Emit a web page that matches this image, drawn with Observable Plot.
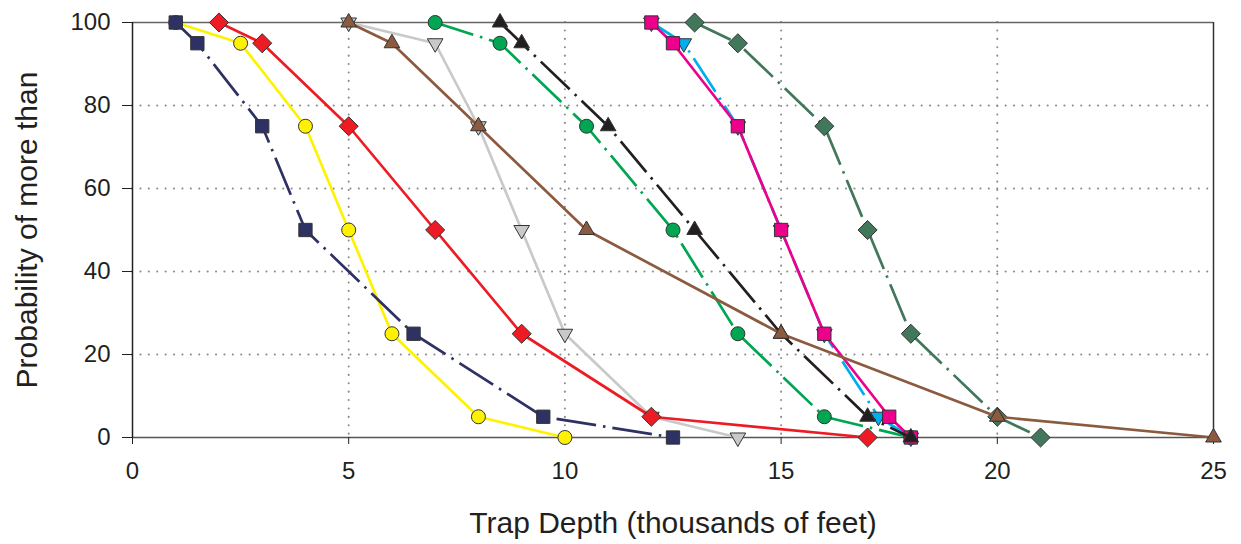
<!DOCTYPE html>
<html>
<head>
<meta charset="utf-8">
<script src="https://cdn.jsdelivr.net/npm/d3@7"></script>
<script src="https://cdn.jsdelivr.net/npm/@observablehq/plot@0.6"></script>
<style>
  html, body { margin: 0; padding: 0; background: #fff; }
  #chart svg { display: block; }
</style>
</head>
<body>
<div id="chart"></div>
<script>
// Probability levels shared by every series (y values)
const probs = [100, 95, 75, 50, 25, 5, 0];

// Trap depths (thousands of feet) per series
const navyDepths   = [1, 1.5, 3, 4, 6.5, 9.5, 12.5];
const yellowDepths = [1, 2.5, 4, 5, 6, 8, 10];
const redDepths    = [2, 3, 5, 7, 9, 12, 17];
const grayDepths   = [5, 7, 8, 9, 10, 12, 14];
const greenDepths  = [7, 8.5, 10.5, 12.5, 14, 16, 18];
const cyanDepths   = [12, 12.75, 14, 15, 16, 17.25, 18];
const pinkDepths   = [12, 12.5, 14, 15, 16, 17.5, 18];
const blackDepths  = [8.5, 9, 11, 13, 15, 17, 18];
const tealDepths   = [13, 14, 16, 17, 18, 20, 21];
const brownDepths  = [5, 6, 8, 10.5, 15, 20, 25];

// Tick labels
const xTicks = [0, 5, 10, 15, 20, 25];
const yTicks = [0, 20, 40, 60, 80, 100];
const xGrid = [5, 10, 15, 20];
const yGrid = [20, 40, 60, 80];

const xTitle = "Trap Depth (thousands of feet)";
const yTitle = "Probability of more than";

// Series definitions (drawing order)
const dashDot = "40,7,2.5,7";
const series = [
  {depths: yellowDepths, color: "#fff200", symbol: "circle",  size: 7,   dash: null},
  {depths: navyDepths,   color: "#2e3163", symbol: "square",  size: 7.5, dash: dashDot},
  {depths: grayDepths,   color: "#c9c9c9", symbol: "triangle",size: 5.8, dash: null, rotate: 180},
  {depths: redDepths,    color: "#ed1c24", symbol: "diamond2",size: 8.6, dash: null},
  {depths: greenDepths,  color: "#00a651", symbol: "circle",  size: 7,   dash: dashDot},
  {depths: cyanDepths,   color: "#00aeef", symbol: "triangle",size: 5.8, dash: dashDot, rotate: 180},
  {depths: pinkDepths,   color: "#ec008c", symbol: "square",  size: 7.5, dash: null},
  {depths: blackDepths,  color: "#231f20", symbol: "triangle",size: 5.8, dash: dashDot},
  {depths: tealDepths,   color: "#41775a", symbol: "diamond2",size: 8.6, dash: dashDot},
  {depths: brownDepths,  color: "#8b5a3f", symbol: "triangle",size: 5.8, dash: null}
];

const font = "'Liberation Sans', Arial, Helvetica, sans-serif";

const marks = [
  Plot.ruleX(xGrid, {stroke: "#8a8a8a", strokeWidth: 2, strokeDasharray: "0.1,8.3", strokeLinecap: "round"}),
  Plot.ruleY(yGrid, {stroke: "#8a8a8a", strokeWidth: 2, strokeDasharray: "0.1,8.3", strokeLinecap: "round"}),
  Plot.ruleY([100], {stroke: "#666", strokeWidth: 1.5}),
  Plot.ruleX([25], {stroke: "#333", strokeWidth: 1.5}),
  Plot.ruleY([0], {stroke: "#555", strokeWidth: 1.5}),
  Plot.ruleX([0], {stroke: "#222", strokeWidth: 1.5}),
  Plot.axisX(xTicks, {tickSize: 7, tickPadding: 17, fontSize: 24, stroke: "#222", color: "#231f20", label: null}),
  Plot.axisY(yTicks, {tickSize: 10, tickPadding: 12, fontSize: 24, stroke: "#222", color: "#231f20", label: null}),
  Plot.text([xTitle], {frameAnchor: "bottom", dy: 95, fontSize: 30, fill: "#231f20", textAnchor: "middle"}),
  Plot.text([yTitle], {frameAnchor: "left", dx: -105, rotate: -90, fontSize: 30, fill: "#231f20", textAnchor: "middle"})
];

for (const s of series) {
  const data = s.depths.map((d, i) => ({x: d, y: probs[i]}));
  marks.push(Plot.line(data, {
    x: "x", y: "y", stroke: s.color, strokeWidth: 2.7,
    strokeDasharray: s.dash || undefined, strokeLinejoin: "round", strokeLinecap: "butt"
  }));
  marks.push(Plot.dot(data, {
    x: "x", y: "y", symbol: s.symbol, r: s.size, fill: s.color,
    stroke: "#333", strokeWidth: 1, rotate: s.rotate || 0
  }));
}

const chart = Plot.plot({
  width: 1241,
  height: 544,
  marginLeft: 132,
  marginRight: 28,
  marginTop: 22,
  marginBottom: 107,
  style: {fontFamily: font, background: "#fff", color: "#231f20", overflow: "visible"},
  x: {domain: [0, 25], axis: null},
  y: {domain: [0, 100], axis: null},
  marks
});
document.getElementById("chart").appendChild(chart);
</script>
</body>
</html>
